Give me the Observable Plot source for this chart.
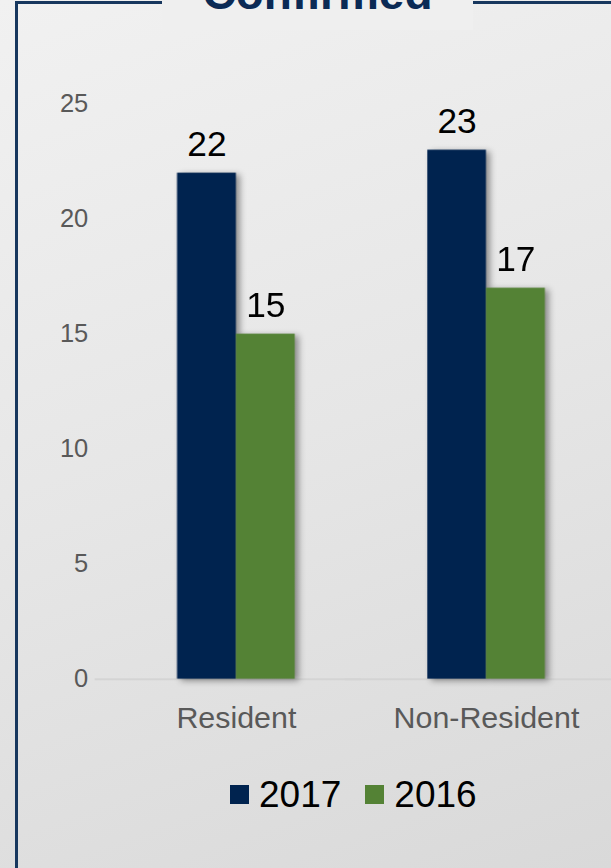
<!DOCTYPE html>
<html>
<head>
<meta charset="utf-8">
<script src="https://cdn.jsdelivr.net/npm/d3@7"></script>
<script src="https://cdn.jsdelivr.net/npm/@observablehq/plot@0.6"></script>
<style>
  html, body { margin: 0; padding: 0; }
  body { width: 611px; height: 868px; overflow: hidden; font-family: "Liberation Sans", Arial, sans-serif; }
  #frame { position: relative; width: 611px; height: 868px; overflow: hidden;
    background: linear-gradient(160deg, #f1f1f1 0%, #e6e6e6 50%, #d9d9d9 100%); }
  #borderLeft { position: absolute; left: 15px; top: 1px; width: 3px; height: 867px; background: #17375e; }
  #borderTop { position: absolute; left: 15px; top: 1px; width: 596px; height: 3px; background: #17375e; }
  #titleBox { position: absolute; left: 162px; top: 0; width: 311px; height: 30px; background: #efefef; overflow: hidden; }
  #title { position: absolute; left: 0; width: 311px; top: -30px; height: 46px; line-height: 46px;
    font-size: 46px; font-weight: bold; color: #0b2a55; text-align: center; }
  #chart { position: absolute; left: 0; top: 0; }
  #chart svg { background: none; overflow: visible; }
  #legend { position: absolute; left: 230px; top: 776px; height: 37px; display: flex; align-items: center;
    font-size: 37px; line-height: 37px; color: #000; }
  .sw { width: 19px; height: 19px; display: inline-block; margin-right: 10px; }
  .item { display: flex; align-items: center; margin-right: 24px; }
</style>
</head>
<body>
<div id="frame">
  <div id="borderLeft"></div>
  <div id="borderTop"></div>
  <div id="titleBox"><div id="title">Confirmed</div></div>
  <div id="chart"></div>
  <div id="legend"></div>
</div>
<script>
const categories = ["Resident", "Non-Resident"];
const years = ["2017", "2016"];
const values2017 = [22, 23];
const values2016 = [15, 17];
const yTicks = [0, 5, 10, 15, 20, 25];
const colors = ["#00234f", "#548235"];

const data = [];
categories.forEach((c, i) => {
  data.push({category: c, year: years[0], value: values2017[i]});
  data.push({category: c, year: years[1], value: values2016[i]});
});

const font = "Liberation Sans, Arial, sans-serif";

const plot = Plot.plot({
  width: 623,
  height: 760,
  marginLeft: 112.5,
  marginRight: 0.5,
  marginTop: 105.7,
  marginBottom: 68,
  style: {fontFamily: font, background: "none", overflow: "visible"},
  fx: {domain: categories, padding: 0, label: null},
  x: {domain: years, paddingInner: 0, paddingOuter: 1.0902, axis: null},
  y: {domain: [0, 25], ticks: yTicks, label: null},
  color: {domain: years, range: colors},
  marks: [
    Plot.axisY({ticks: yTicks, tickSize: 0, tickPadding: 23.5, fontSize: 26, fill: "#595959", label: null, tickFormat: d => String(d)}),
    Plot.axisFx({anchor: "bottom", tickSize: 0, tickPadding: 28, fontSize: 31, fill: "#595959", label: null}),
    Plot.ruleY([0], {stroke: "#d4d4d4", strokeWidth: 2, insetLeft: -16.5}),
    Plot.barY(data, {fx: "category", x: "year", y: "value", fill: "year"}),
    Plot.text(data, {fx: "category", x: "year", y: "value", text: d => String(d.value),
      dy: -29.5, fontSize: 36, fill: "#000"})
  ]
});
plot.querySelectorAll("g[aria-label='bar']").forEach(g => g.setAttribute("filter", "drop-shadow(4px 2px 3px rgba(0,0,0,0.4))"));
document.getElementById("chart").appendChild(plot);

const legend = document.getElementById("legend");
years.forEach((y, i) => {
  const item = document.createElement("div");
  item.className = "item";
  const sw = document.createElement("span");
  sw.className = "sw";
  sw.style.background = colors[i];
  const t = document.createElement("span");
  t.textContent = y;
  item.appendChild(sw);
  item.appendChild(t);
  legend.appendChild(item);
});
</script>
</body>
</html>
